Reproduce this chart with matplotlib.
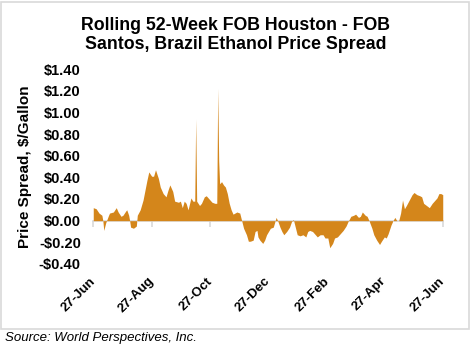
import datetime as dt
import matplotlib
matplotlib.use("Agg")
import matplotlib.pyplot as plt
from matplotlib.patches import Rectangle

# ============================================================
# DATA (days after 27-Jun, spread in $/gallon)
# ============================================================
START = dt.date(2017, 6, 27)

day_offsets = [
    0, 3, 6, 9, 10, 11, 13, 16, 17, 21, 24, 26, 29, 31, 34, 35, 37, 38, 39, 42,
    45, 46, 49, 52, 54, 56, 58, 61, 63, 65, 68, 70, 73, 76, 78, 80, 83, 85, 89,
    91, 93, 95, 97, 99, 102, 104, 106, 107, 108, 111, 113, 116, 118, 121, 124,
    127, 129, 130, 131, 132, 134, 136, 138, 140, 142, 144, 146, 150, 153, 155,
    157, 160, 162, 164, 167, 169, 171, 172, 174, 177, 179, 181, 183, 185, 188,
    190, 191, 193, 195, 197, 199, 202, 205, 207, 209, 211, 213, 216, 219, 222,
    224, 226, 229, 232, 234, 237, 240, 242, 245, 247, 250, 252, 255, 258, 261,
    264, 266, 269, 272, 274, 277, 279, 281, 284, 286, 288, 291, 293, 296, 299,
    301, 304, 306, 308, 311, 313, 315, 317, 319, 321, 323, 325, 327, 330, 333,
    335, 338, 341, 343, 345, 348, 351, 354, 357, 359, 361, 363, 365,
]

spread = [
    0.12, 0.11, 0.07, 0.05, 0.00, -0.09, -0.02, 0.05, 0.07, 0.08, 0.12, 0.08,
    0.04, 0.05, 0.09, 0.10, 0.05, 0.00, -0.06, -0.07, -0.05, 0.05, 0.10, 0.19,
    0.28, 0.37, 0.45, 0.41, 0.41, 0.47, 0.39, 0.31, 0.25, 0.22, 0.28, 0.33,
    0.27, 0.18, 0.17, 0.18, 0.12, 0.18, 0.16, 0.10, 0.21, 0.18, 0.18, 0.94,
    0.18, 0.14, 0.16, 0.22, 0.23, 0.20, 0.17, 0.16, 0.16, 1.22, 0.55, 0.34,
    0.36, 0.33, 0.31, 0.25, 0.16, 0.10, 0.06, 0.08, 0.07, 0.00, -0.07, -0.13,
    -0.19, -0.19, -0.18, -0.10, -0.09, -0.15, -0.18, -0.21, -0.18, -0.13,
    -0.10, -0.07, -0.06, 0.00, 0.03, -0.01, -0.06, -0.10, -0.13, -0.10, -0.06,
    -0.01, 0.01, -0.06, -0.13, -0.14, -0.13, -0.15, -0.10, -0.09, -0.10, -0.13,
    -0.15, -0.13, -0.13, -0.16, -0.16, -0.25, -0.21, -0.16, -0.15, -0.12,
    -0.09, -0.05, -0.01, 0.04, 0.05, 0.06, 0.03, 0.04, 0.08, 0.05, 0.04, 0.00,
    -0.07, -0.13, -0.18, -0.22, -0.19, -0.15, -0.16, -0.12, -0.04, 0.00, 0.03,
    0.00, 0.00, 0.07, 0.19, 0.11, 0.14, 0.19, 0.24, 0.26, 0.24, 0.23, 0.22,
    0.16, 0.14, 0.12, 0.16, 0.19, 0.21, 0.25, 0.25, 0.24,
]

TICK_LABELS = ["27-Jun", "27-Aug", "27-Oct", "27-Dec", "27-Feb", "27-Apr", "27-Jun"]
TICK_DAYS = [0, 61, 122, 183, 245, 304, 365]
Y_TICKS = [-0.4, -0.2, 0.0, 0.2, 0.4, 0.6, 0.8, 1.0, 1.2, 1.4]

AREA_COLOR = "#D4861B"
GRID_GRAY = "#D9D9D9"

plt.rcParams["font.family"] = ["Liberation Sans", "DejaVu Sans"]


def money(v):
    return f"-${abs(v):.2f}" if v < 0 else f"${v:.2f}"


def main():
    dates = [START + dt.timedelta(days=d) for d in day_offsets]
    tick_dates = [START + dt.timedelta(days=d) for d in TICK_DAYS]

    fig = plt.figure(figsize=(4.71, 3.48), dpi=100)
    ax = fig.add_axes([0.198, 0.2414, 0.742, 0.5603])

    ax.fill_between(dates, spread, 0, color=AREA_COLOR, linewidth=0)

    ax.set_xlim(dates[0], dates[-1])
    ax.set_ylim(-0.4, 1.4)

    for s in ax.spines.values():
        s.set_visible(False)

    ax.set_yticks(Y_TICKS)
    ax.set_yticklabels([money(v) for v in Y_TICKS], fontsize=10.5, fontweight="bold")
    ax.tick_params(axis="y", length=0, pad=9)

    ax.set_xticks(tick_dates)
    ax.set_xticklabels(TICK_LABELS, fontsize=9.5, fontweight="bold",
                       rotation=45, ha="right", va="center", rotation_mode="anchor")
    ax.tick_params(axis="x", length=0, pad=11)

    # zero line with tick marks
    zero = ax.secondary_xaxis(0.4 / 1.8)
    zero.set_xticks(tick_dates)
    zero.set_xticklabels([])
    zero.spines["bottom"].set_color(GRID_GRAY)
    zero.spines["bottom"].set_linewidth(1.2)
    zero.tick_params(axis="x", length=4, width=1.2, color=GRID_GRAY, direction="out")

    ax.set_ylabel("Price Spread, $/Gallon", fontsize=11, fontweight="bold", labelpad=5)

    fig.text(0.5, 0.9, "Rolling 52-Week FOB Houston - FOB\nSantos, Brazil Ethanol Price Spread",
             ha="center", va="center", fontsize=12.8, fontweight="bold", linespacing=1.15)

    fig.patches.append(Rectangle((1 / 471, 19 / 348), 468 / 471, 327 / 348,
                                 transform=fig.transFigure, fill=False,
                                 edgecolor=GRID_GRAY, linewidth=1.2))

    fig.text(5 / 471, 10 / 348, "Source: World Perspectives, Inc.", ha="left", va="center",
             fontsize=9.5, style="italic")

    fig.savefig("out.png", dpi=100)
    plt.close(fig)


if __name__ == "__main__":
    main()
